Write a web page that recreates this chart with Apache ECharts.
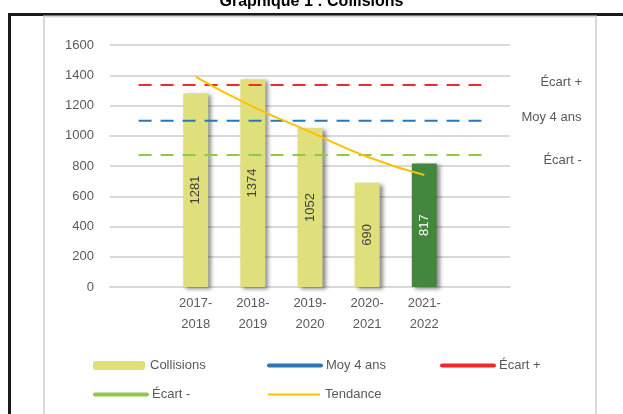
<!DOCTYPE html>
<html>
<head>
<meta charset="utf-8">
<script src="https://cdn.jsdelivr.net/npm/echarts@6/dist/echarts.min.js"></script>
<style>
  html, body { margin: 0; padding: 0; background: #fff; }
  #main { width: 623px; height: 414px; }
</style>
</head>
<body>
<div id="main"></div>
<script>
// données du graphique
var categories = ['', '2017-\n2018', '2018-\n2019', '2019-\n2020', '2020-\n2021', '2021-\n2022', ''];
var collisions = [null, 1281, 1374, 1052, 690, 817, null];
var moy4ans = [1099, 1099, 1099, 1099, 1099, 1099, 1099];
var ecartPlus = [1335, 1335, 1335, 1335, 1335, 1335, 1335];
var ecartMoins = [872, 872, 872, 872, 872, 872, 872];
var tendance = [null, 1390, 1192, 1026, 861, 740, null];
var yTicks = [0, 200, 400, 600, 800, 1000, 1200, 1400, 1600];

var police = 'Liberation Sans';
var gris = '#595959';

var myChart = echarts.init(document.getElementById('main'));

// barres : la dernière année en vert foncé
var barData = collisions.map(function (v, i) {
	if (i === 5) {
		return { value: v, itemStyle: { color: '#43873F' }, label: { color: '#ffffff' } };
	}
	return v;
});

function legende(nom, left, top, extra) {
	var l = {
		data: [nom],
		left: left,
		top: top,
		itemWidth: 52,
		itemHeight: 8,
		itemGap: 0,
		textStyle: { fontFamily: police, fontSize: 13, color: gris }
	};
	for (var k in extra) { l[k] = extra[k]; }
	return l;
}

function ligne(nom, data, couleur, label) {
	return {
		name: nom,
		type: 'line',
		data: data,
		symbol: 'none',
		silent: true,
		z: 3,
		lineStyle: { color: couleur, width: 2, type: [13, 9] },
		itemStyle: { color: couleur },
		endLabel: {
			show: true,
			formatter: nom,
			offset: label,
			fontFamily: police,
			fontSize: 13,
			color: gris
		}
	};
}

var legLigne = { type: 'solid', width: 4, cap: 'round' };

var option = {
	animation: false,
	title: {
		text: 'Graphique 1 : Collisions',
		left: 'center',
		top: -11,
		textStyle: { fontFamily: police, fontSize: 16, fontWeight: 'bold', color: '#000' }
	},
	graphic: [
		{ type: 'rect', shape: { x: 9.5, y: 14.5, width: 700, height: 500 }, style: { fill: null, stroke: '#1a1a1a', lineWidth: 3 } },
		{ type: 'rect', shape: { x: 44, y: 16.5, width: 552, height: 500 }, style: { fill: null, stroke: '#d9d9d9', lineWidth: 2 } }
	],
	legend: [
		legende('Collisions', 88, 354, { itemHeight: 9 }),
		legende('Moy 4 ans', 262, 354, { lineStyle: legLigne, itemStyle: { opacity: 0 } }),
		legende('Écart +', 435, 354, { lineStyle: legLigne, itemStyle: { opacity: 0 } }),
		legende('Écart -', 88, 383, { lineStyle: legLigne, itemStyle: { opacity: 0 } }),
		legende('Tendance', 262, 383, { lineStyle: { type: 'solid', width: 2 }, itemStyle: { opacity: 0 } })
	],
	grid: { left: 110, right: 113, top: 45, bottom: 127 },
	xAxis: {
		type: 'category',
		data: categories,
		axisTick: { show: false },
		axisLine: { lineStyle: { color: '#d9d9d9', width: 2 } },
		axisLabel: { fontFamily: police, fontSize: 13, color: gris, margin: 6, lineHeight: 21, interval: 0 }
	},
	yAxis: {
		type: 'value',
		min: yTicks[0],
		max: yTicks[yTicks.length - 1],
		interval: 200,
		axisLine: { show: false },
		axisTick: { show: false },
		splitLine: { lineStyle: { color: '#d9d9d9', width: 2 } },
		axisLabel: {
			fontFamily: police, fontSize: 13, color: gris, margin: 16,
			formatter: function (v) { return String(v); }
		}
	},
	series: [
		{
			name: 'Collisions',
			type: 'bar',
			data: barData,
			barWidth: 25,
			z: 2,
			itemStyle: {
				color: '#DFE07B',
				shadowColor: 'rgba(0,0,0,0.45)',
				shadowBlur: 4,
				shadowOffsetX: 3,
				shadowOffsetY: 2
			},
			label: {
				show: true,
				position: 'inside',
				rotate: 90,
				fontFamily: police,
				fontSize: 13,
				color: '#404040'
			}
		},
		ligne('Moy 4 ans', moy4ans, '#2E75B6', [32, -3]),
		ligne('Écart +', ecartPlus, '#EE2A2A', [51, -3]),
		ligne('Écart -', ecartMoins, '#92C84A', [54, 5]),
		{
			name: 'Tendance',
			type: 'line',
			data: tendance,
			symbol: 'none',
			smooth: true,
			silent: true,
			z: 4,
			lineStyle: { color: '#FFC000', width: 2 },
			itemStyle: { color: '#FFC000' }
		}
	]
};
myChart.setOption(option);
</script>
</body>
</html>
